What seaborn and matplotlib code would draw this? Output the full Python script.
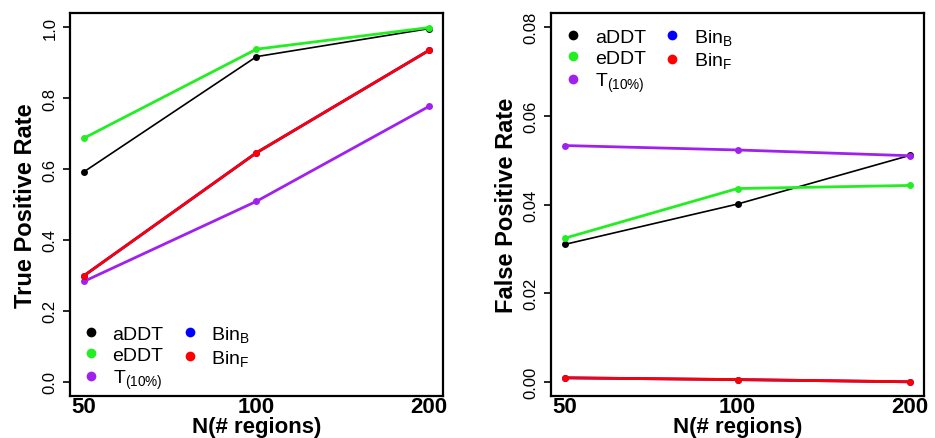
import matplotlib
matplotlib.use("Agg")
import matplotlib.pyplot as plt
from matplotlib.lines import Line2D
import seaborn as sns
import pandas as pd

# ---- data ----
n_regions = ["50", "100", "200"]
methods = ["aDDT", "eDDT", "T10", "BinB", "BinF"]
legend_labels = ["aDDT", "eDDT", r"T$_{(10\%)}$", r"Bin$_{\mathrm{B}}$", r"Bin$_{\mathrm{F}}$"]
colors = ["#000000", "#22EE22", "#A020F0", "#0000FF", "#FF0000"]
line_widths = [1.2, 2.0, 2.0, 2.0, 2.0]

tpr_aDDT = [0.592, 0.917, 0.996]
tpr_eDDT = [0.687, 0.938, 0.999]
tpr_T10 = [0.283, 0.509, 0.777]
tpr_BinB = [0.299, 0.646, 0.935]
tpr_BinF = [0.299, 0.646, 0.935]

fpr_aDDT = [0.0310, 0.0401, 0.0511]
fpr_eDDT = [0.0324, 0.0436, 0.0443]
fpr_T10 = [0.0533, 0.0523, 0.0510]
fpr_BinB = [0.0009, 0.0005, 0.0000]
fpr_BinF = [0.0009, 0.0005, 0.0000]

tpr_ticks = [0.0, 0.2, 0.4, 0.6, 0.8, 1.0]
tpr_tick_labels = ["0.0", "0.2", "0.4", "0.6", "0.8", "1.0"]
fpr_ticks = [0.00, 0.02, 0.04, 0.06, 0.08]
fpr_tick_labels = ["0.00", "0.02", "0.04", "0.06", "0.08"]

tpr = {"aDDT": tpr_aDDT, "eDDT": tpr_eDDT, "T10": tpr_T10, "BinB": tpr_BinB, "BinF": tpr_BinF}
fpr = {"aDDT": fpr_aDDT, "eDDT": fpr_eDDT, "T10": fpr_T10, "BinB": fpr_BinB, "BinF": fpr_BinF}

sns.set_style("ticks")
plt.rcParams["font.family"] = ["Liberation Sans", "DejaVu Sans"]
plt.rcParams["mathtext.fontset"] = "custom"
plt.rcParams["mathtext.rm"] = "Liberation Sans"
plt.rcParams["mathtext.it"] = "Liberation Sans"
plt.rcParams["mathtext.bf"] = "Liberation Sans:bold"
for k in ["text.color", "axes.labelcolor", "xtick.color", "ytick.color",
          "xtick.labelcolor", "ytick.labelcolor"]:
    plt.rcParams[k] = "black"

fig = plt.figure(figsize=(9.35, 4.39), dpi=100)
ax1 = fig.add_axes([70 / 935, 1 - 397 / 439, 373 / 935, 383 / 439])
ax2 = fig.add_axes([551 / 935, 1 - 397 / 439, 373 / 935, 383 / 439])


def draw(ax, data, ticks, tick_labels, ylabel, ymax, legend_loc, legend_anchor):
    for m, c, lw in zip(methods, colors, line_widths):
        df = pd.DataFrame({"N": n_regions, "v": data[m]})
        sns.lineplot(data=df, x="N", y="v", ax=ax, color=c, linewidth=lw,
                     marker="o", markersize=5, markeredgewidth=0, sort=False)
    ax.set_xlim(-0.08, 2.08)
    ax.set_ylim(-0.04 * ymax, 1.04 * ymax)
    ax.set_yticks(ticks)
    ax.set_yticklabels(tick_labels, rotation=90, va="center", fontsize=12)
    ax.set_xticks([0, 1, 2])
    ax.set_xticklabels(n_regions, fontsize=16, fontweight="bold")
    ax.tick_params(axis="x", length=0, pad=0)
    ax.tick_params(axis="y", length=5, width=1.2, pad=4)
    ax.set_xlabel("N(# regions)", fontsize=16, fontweight="bold", labelpad=-1)
    ax.set_ylabel(ylabel, fontsize=17, fontweight="bold", labelpad=4)
    for s in ax.spines.values():
        s.set_visible(True)
        s.set_linewidth(1.6)
        s.set_color("black")
    handles = [Line2D([], [], color=c, marker="o", linestyle="none", markersize=7, markeredgewidth=0)
               for c in colors]
    ax.legend(handles, legend_labels, ncol=2, loc=legend_loc, bbox_to_anchor=legend_anchor,
              frameon=False, fontsize=14, handletextpad=0.6, columnspacing=0.85,
              labelspacing=0.2, handlelength=1.0, borderaxespad=0)


draw(ax1, tpr, tpr_ticks, tpr_tick_labels, "True Positive Rate", 1.0,
     "lower left", (0.01, -0.008))
draw(ax2, fpr, fpr_ticks, fpr_tick_labels, "False Positive Rate", 0.08,
     "upper left", (0.013, 0.985))

fig.savefig("out.png", dpi=100)
